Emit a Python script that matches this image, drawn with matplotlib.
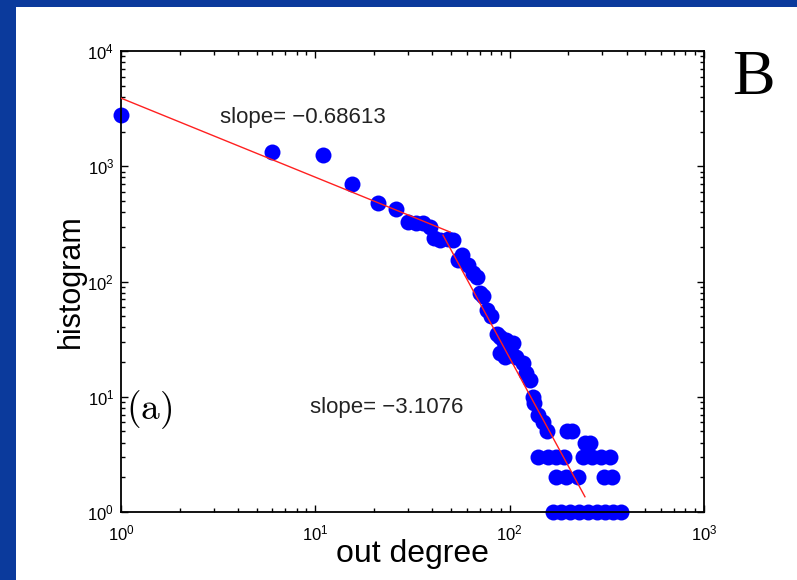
import matplotlib
matplotlib.use('Agg')
import matplotlib.pyplot as plt
import numpy as np
from matplotlib.patches import Rectangle

# out-degree histogram
out_deg = [1, 6, 11, 15.5, 21, 26, 30, 33, 36, 39, 41, 44, 48, 51,
           54, 57, 61, 65, 68, 70.5, 73, 76.5, 80, 86, 89, 93, 96, 100, 104,
           89, 95, 108, 117, 122, 127, 132, 134, 140,
           149, 156, 197, 210, 245, 260]
hist_cnt = [2800, 1330, 1250, 700, 480, 426, 330, 320, 322, 300, 238, 229, 232, 229,
            154, 170, 140, 118, 110, 80, 75, 57, 50, 35, 33, 30, 31, 27, 29,
            24, 22, 22, 19.6, 16, 14, 10, 8.8, 7,
            6, 5, 5, 5, 4, 4]

# rows of small counts at the tail
row3_deg = [140, 158, 173, 191, 239, 265, 295, 329]
row2_deg = [173, 195, 225, 306, 337]
row1_deg = [167, 184, 205, 228, 253, 282, 310, 341, 374]

# fitted power laws
fit1_range = [1, 49.4]
fit1_c, fit1_slope = 3900, -0.68613
fit2_range = [45.4, 244]
fit2_c, fit2_slope = 3.56e7, -3.1076

W, H = 797, 580
fig = plt.figure(figsize=(W / 100, H / 100), dpi=100)
fig.patch.set_facecolor('#0b3a9c')
fig.patches.append(Rectangle((16 / W, 0), 1, 1 - 7 / H, transform=fig.transFigure,
                             facecolor='white', edgecolor='none', zorder=-10))

ax = fig.add_axes([121 / W, 68 / H, 583 / W, 461 / H])
ax.set_zorder(2)
ax.set_xscale('log')
ax.set_yscale('log')

all_x = out_deg + row3_deg + row2_deg + row1_deg
all_y = hist_cnt + [3] * len(row3_deg) + [2] * len(row2_deg) + [1] * len(row1_deg)
ax.plot(all_x, all_y, 'o', color='#0000ff', markersize=11.5, markeredgewidth=0,
        clip_on=False, zorder=2)

x1 = np.logspace(np.log10(fit1_range[0]), np.log10(fit1_range[1]), 50)
ax.plot(x1, fit1_c * x1 ** fit1_slope, color='#ff2020', lw=1.0, zorder=3)
x2 = np.logspace(np.log10(fit2_range[0]), np.log10(fit2_range[1]), 50)
ax.plot(x2, fit2_c * x2 ** fit2_slope, color='#ff2020', lw=1.0, zorder=3)

ax.set_xlim(1, 1000)
ax.set_ylim(1, 10000)

font = 'Liberation Sans'
ax.tick_params(which='both', direction='in', top=True, right=True, width=1.0)
ax.tick_params(which='major', length=5, labelsize=12)
ax.tick_params(axis='x', which='major', pad=8)
ax.tick_params(axis='y', which='major', pad=5)
ax.tick_params(which='minor', length=3)
for lab in ax.get_xticklabels() + ax.get_yticklabels():
    lab.set_fontfamily(font)
for s in ax.spines.values():
    s.set_linewidth(1.3)

ax.set_xlabel('out degree', fontsize=23, fontfamily=font, labelpad=-3)
ax.set_ylabel('histogram', fontsize=22, fontfamily=font, labelpad=1)

ax.text(0.17, 0.855, 'slope= \u22120.68613', transform=ax.transAxes,
        fontsize=16, fontfamily=font, color='#222222', va='center')
ax.text(0.325, 0.226, 'slope= \u22123.1076', transform=ax.transAxes,
        fontsize=16, fontfamily=font, color='#222222', va='center')
ax.text(0.008, 0.222, r'$\mathrm{(a)}$', transform=ax.transAxes,
        fontsize=27, math_fontfamily='cm', va='center')

fig.text(753 / W, 1 - 79 / H, 'B', fontsize=46, fontfamily='Liberation Serif',
         ha='center', va='center')

fig.savefig('out.png', dpi=100)
